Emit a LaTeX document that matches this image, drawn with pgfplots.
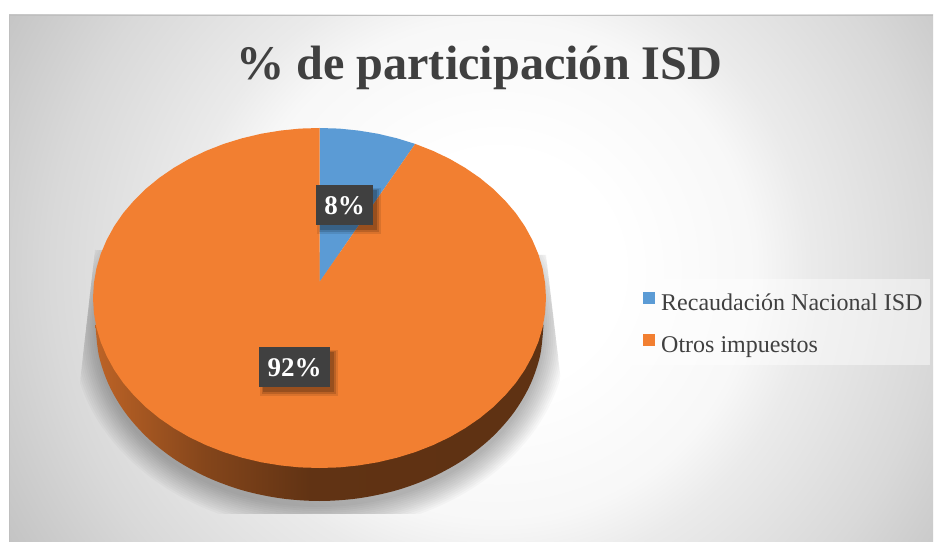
\documentclass[border=0pt]{standalone}
\usepackage{fontspec}
\setmainfont{Liberation Serif}
\usepackage{pgfplots}
\pgfplotsset{compat=1.18}

\definecolor{azul}{HTML}{5B9BD5}
\definecolor{naranja}{HTML}{F27F31}
\definecolor{oscuro}{HTML}{404040}
\definecolor{textogris}{HTML}{404040}

% background, off-centre glow
\pgfdeclareradialshading{fondo}{\pgfpoint{1.6bp}{0bp}}{
  color(0bp)=(white); color(6.5bp)=(white); color(14bp)=(white!97!black);
  color(17bp)=(white!92!black); color(24bp)=(white!85!black);
  color(30bp)=(white!77!black); color(100bp)=(white!75!black)}
% side of the pie
\pgfdeclarehorizontalshading{lado}{100bp}{
  color(0bp)=(naranja!78!black); color(25bp)=(naranja!78!black);
  color(37bp)=(naranja!55!black); color(49bp)=(naranja!40!black);
  color(75bp)=(naranja!39!black); color(100bp)=(naranja!39!black)}

\newcommand{\etiqueta}[5]{%
  \fill[black,opacity=.10] (axis cs:#1+1,#2+3) rectangle (axis cs:#3+8,#4+9);
  \fill[black,opacity=.14] (axis cs:#1+3,#2+4) rectangle (axis cs:#3+6,#4+7);
  \fill[black,opacity=.18] (axis cs:#1+4,#2+5) rectangle (axis cs:#3+4,#4+5);
  \fill[oscuro] (axis cs:#1,#2) rectangle (axis cs:#3,#4);
  \node[text=white,font=\fontsize{27}{30}\selectfont\bfseries,anchor=base]
    at (axis cs:{(#1+#3)/2},{#4-10}) {#5};
}

\begin{document}
\begin{tikzpicture}
% chart area and pie shadow, measured in pixels from the top left
\begin{scope}[x=1pt,y=-1pt,shift={(0pt,542pt)}]
  \fill[white] (0,0) rectangle (935,542);
  \begin{scope}
    \clip (9,15) rectangle (933,542);
    \shade[shading=fondo] (9,-180) rectangle (933,720);
  \end{scope}
  \draw[black!25,line width=.8pt] (9,542) -- (9,15) -- (933,15);
  \begin{scope}
    \clip (95,250) -- (78,400) -- (78,514) -- (562,514) -- (562,390) -- (546,255) -- cycle;
    \foreach \k in {0,2,...,24}
      \fill[black,opacity=.022] (319.5,331) ellipse ({224+\k} and {176+\k});
  \end{scope}
\end{scope}

\begin{axis}[
    hide axis,
    scale only axis,
    width=935pt,
    height=542pt,
    xmin=0, xmax=935,
    ymin=0, ymax=542,
    y dir=reverse,
    title={\textbf{\% de participación ISD}},
    title style={at={(axis description cs:0.5125,0.842)},anchor=base,yshift=0pt,
      font=\fontsize{48.2}{52}\selectfont,text=textogris},
    legend cell align=left,
    legend image code/.code={
      \path (0pt,0pt) (22pt,0pt);
      \fill[#1,opacity=1] (6pt,-3pt) rectangle (18pt,9pt);},
    legend style={at={(axis description cs:0.6749,0.4852)},anchor=north west,
      draw=none,fill=white,fill opacity=.45,text opacity=1,
      font=\fontsize{24}{28}\selectfont,text=textogris,
      inner xsep=6pt,inner ysep=4pt,row sep=6pt,
      nodes={text height=25pt,text depth=7pt}},
]
% side wall
\addplot[forget plot,draw=none,shading=lado,smooth,tension=.55] coordinates {
  (543.5,325) (540.1,355.6) (530,385.2) (513.5,413) (491.1,438.1) (463.5,459.8)
  (431.5,477.4) (396.1,490.4) (358.4,498.3) (319.5,501) (280.6,498.3) (242.9,490.4)
  (207.5,477.4) (175.5,459.8) (147.9,438.1) (125.5,413) (109,385.2) (98.9,355.6)
  (95.5,325)};

% Recaudacion Nacional ISD, 8 %
\addplot[draw=none,fill=azul] coordinates {
  (319.5,282) (319.5,128) (339.2,128.6) (358.8,130.6) (378.1,133.8) (397,138.3) (415.2,143.9)};
\addlegendentry{Recaudación Nacional ISD\hspace{8pt}}

% Otros impuestos, 92 %
\addplot[draw=none,fill=naranja] coordinates {
  (319.5,282) (415.2,143.9) (432.8,150.8) (449.4,158.7) (465.1,167.8) (479.7,177.8)
  (493,188.7) (505,200.5) (515.7,213) (524.8,226.2) (532.3,239.9) (538.3,254)
  (542.6,268.5) (545.1,283.2) (546,298) (545.1,312.8) (542.6,327.5) (538.3,342)
  (532.3,356.1) (524.8,369.8) (515.7,383) (505,395.5) (493,407.3) (479.7,418.2)
  (465.1,428.2) (449.4,437.3) (432.8,445.2) (415.2,452.1) (397,457.7) (378.1,462.2)
  (358.8,465.4) (339.2,467.4) (319.5,468) (299.8,467.4) (280.2,465.4) (260.9,462.2)
  (242,457.7) (223.8,452.1) (206.2,445.2) (189.6,437.3) (173.9,428.2) (159.3,418.2)
  (146,407.3) (134,395.5) (123.3,383) (114.2,369.8) (106.7,356.1) (100.7,342)
  (96.4,327.5) (93.9,312.8) (93,298) (93.9,283.2) (96.4,268.5) (100.7,254)
  (106.7,239.9) (114.2,226.2) (123.3,213) (134,200.5) (146,188.7) (159.3,177.8)
  (173.9,167.8) (189.6,158.7) (206.2,150.8) (223.8,143.9) (242,138.3) (260.9,133.8)
  (280.2,130.6) (299.8,128.6) (319.5,128)};
\addlegendentry{Otros impuestos}

\etiqueta{316}{185}{373}{225}{8\%}
\etiqueta{259}{347}{330}{387}{92\%}
\end{axis}
\end{tikzpicture}
\end{document}
